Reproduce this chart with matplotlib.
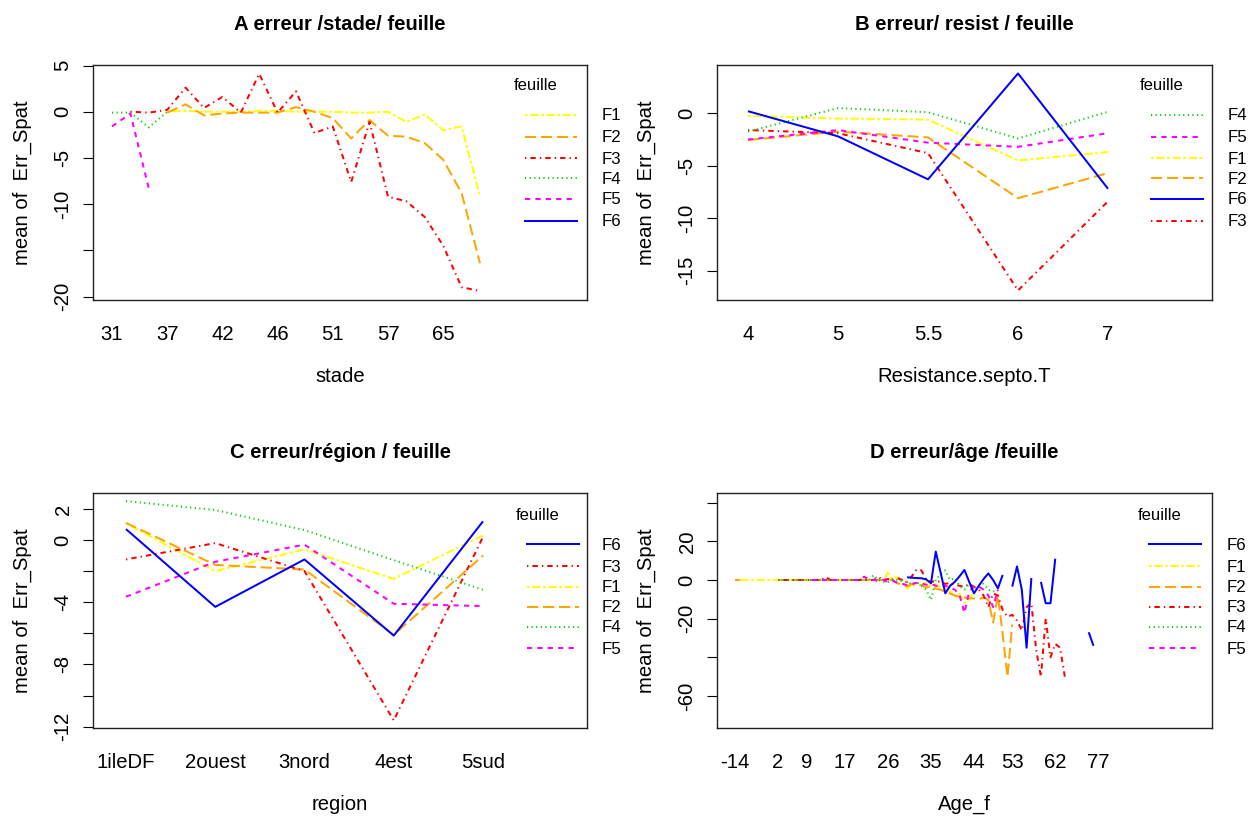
import numpy as np
import matplotlib
matplotlib.use('Agg')
import matplotlib.pyplot as plt
from matplotlib.lines import Line2D

plt.rcParams['font.family'] = ['Liberation Sans', 'DejaVu Sans']
plt.rcParams['lines.scale_dashes'] = False

nan = np.nan
W, H = 1258, 816

# ---------------- data ----------------
leaves = ['F1', 'F2', 'F3', 'F4', 'F5', 'F6']
leaf_colors = {'F1': '#FFFF00', 'F2': '#FFA500', 'F3': '#FF0000',
               'F4': '#00CD00', 'F5': '#FF00FF', 'F6': '#0000FF'}

# Panel A : stade
stade_levels = [31, 32, 34, 37, 39, 41, 42, 43, 45, 46, 47, 49, 51, 53, 55, 57, 59, 61, 65, 69, 71]
stade_shown = [31, 37, 42, 46, 51, 57, 65]
A_F1 = [nan, nan, nan, 0.0, 0.1, 0.0, 0.0, 0.0, 0.1, 0.1, 0.0, 0.0, 0.0, -0.1, -0.1, 0.0, -1.1, -0.3, -2.0, -1.6, -9.2]
A_F2 = [nan, nan, nan, -0.1, 0.8, -0.4, -0.2, -0.1, -0.1, -0.1, 0.5, 0.0, -0.7, -2.9, -0.9, -2.6, -2.7, -3.4, -5.2, -8.8, -16.4]
A_F3 = [nan, 0.0, -0.1, 0.2, 2.6, 0.4, 1.6, -0.1, 4.1, -0.1, 2.2, -2.3, -1.6, -7.6, -1.1, -9.2, -9.7, -11.4, -14.5, -19.0, -19.4]
A_F4 = [-0.1, -0.1, -1.7, 0.0, nan, nan, nan, nan, nan, nan, nan, nan, nan, nan, nan, nan, nan, nan, nan, nan, nan]
A_F5 = [-1.6, -0.2, -8.3, nan, nan, nan, nan, nan, nan, nan, nan, nan, nan, nan, nan, nan, nan, nan, nan, nan, nan]
A_F6 = [nan] * 21

# Panel B : Resistance.septo.T
resist_levels = ['4', '5', '5.5', '6', '7']
B_F1 = [-0.25, -0.5, -0.6, -4.5, -3.7]
B_F2 = [-2.55, -1.75, -2.3, -8.1, -5.7]
B_F3 = [-1.6, -1.9, -3.8, -16.9, -8.4]
B_F4 = [-1.75, 0.5, 0.1, -2.4, 0.15]
B_F5 = [-2.5, -1.6, -2.8, -3.2, -1.9]
B_F6 = [0.2, -2.2, -6.3, 3.8, -7.2]

# Panel C : region
region_levels = ['1ileDF', '2ouest', '3nord', '4est', '5sud']
C_F1 = [1.07, -2.0, -0.6, -2.5, 0.3]
C_F2 = [1.1, -1.6, -1.9, -6.1, -1.0]
C_F3 = [-1.25, -0.2, -2.0, -11.6, 0.2]
C_F4 = [2.5, 1.93, 0.64, -1.3, -3.2]
C_F5 = [-3.65, -1.4, -0.3, -4.1, -4.25]
C_F6 = [0.7, -4.3, -1.25, -6.15, 1.2]

# Panel D : Age_f
age_levels = [-14, -9, -6, -4, -3, -2, -1, 0, 1, 2,
              3, 4, 5, 7, 8, 9,
              10, 11, 12, 13, 14, 15, 16, 17,
              18, 19, 20, 21, 22, 23, 24, 25, 26,
              27, 28, 29, 30, 31, 32, 33, 34, 35,
              36, 37, 38, 39, 40, 41, 42, 43, 44,
              45, 46, 47, 48, 49, 50, 51, 53,
              54, 55, 56, 57, 58, 59, 60, 61, 62,
              63, 64, 65, 66, 67, 68, 70, 73, 77]
age_shown = [-14, 2, 9, 17, 26, 35, 44, 53, 62, 77]
D_F1 = ([0.0] * 32 +
        [3.8, 0.5, 1.4, -1.0, -4.3, -2.6, -1.5, -2.6, -1.0, -3.0, -2.0, -4.0, -3.0, -6.0, -8.6, -7.0, -12.0, -10.0, -6.0] +
        [nan] * 26)
D_F2 = ([0.0, 0.0] + [nan] * 7 + [0.0] * 25 +
        [-1.7, -2.5, -3.4, -2.0, -3.0, -2.6, -4.0, -3.0, -4.5, -5.0, -6.0, -7.0, -8.0, -8.6, -9.0, -9.5, -9.5, -10.0, -9.0, -10.3,
         -22.0, -8.0, -28.0, -50.0, -23.0] +
        [nan] * 18)
D_F3 = ([nan] * 9 + [0.0] * 10 + [1.5] + [0.0] * 10 +
        [1.5, 0.0, 0.5, -0.5, 1.0, 0.0, -1.0, 2.0, 5.5, 5.0, 0.0, -1.0, -0.5, -1.0, -2.0, -1.5, -2.5, -3.0, -3.5, -2.0, -3.5,
         -5.0, -8.0, -14.0, -7.0, -8.0, -15.5, -19.0, -18.0, -21.0, -26.0, -14.0, -12.0, -36.0, -50.0, -20.0, -40.0, -33.0,
         -35.0, -50.0] +
        [nan] * 7)
D_F4 = ([nan] * 9 + [0.0] * 18 +
        [1.0, 0.0, 2.5, 0.0, -1.0, -1.0, 0.5, 0.0, -0.5, -1.0, -2.0, -1.0, -3.0, -5.0, -10.3, 0.0, 3.0, 5.0, 0.0, 1.0, -3.0,
         -5.0, -2.0, -4.0, -3.0, -2.0, -5.0, -6.0, -5.0] +
        [nan] * 21)
D_F5 = ([nan] * 16 + [0.0] * 11 +
        [1.7, 0.5, 0.0, -0.5, 0.0, -1.0, -0.5, -1.5, -2.0, -2.6, -2.0, -1.5, -1.7, -2.5, -2.0, -3.0, -3.4, -3.0, -4.0, -5.0,
         -8.0, -17.0, -6.0, -3.4, -3.4, -5.0, -8.0, -14.0, -5.0] +
        [nan] * 21)
D_F6 = ([nan] * 36 +
        [1.4, 1.2, 1.0, 0.9, 0.3, -1.7, 14.7, 4.0, -6.9, -3.0, -0.9, 2.0, 5.2, -1.0, -6.9, -3.0, 0.5, 3.4, 0.0, -4.3, 2.6,
         nan, -3.4, 7.0, -5.0, -35.0, 1.0, nan, -1.0, -12.0, -12.0, 11.0] +
        [nan] * 6 + [-27.0, -34.0, nan])

# ---------------- styles ----------------
def dash(pattern, unit_px):
    return (0, tuple(p * unit_px * 0.72 for p in pattern))

leaf_styles = {'F1': dash((2, 2, 6, 2), 1.35),
               'F2': dash((7, 3), 1.6),
               'F3': dash((1, 3, 4, 3), 1.35),
               'F4': dash((1, 3), 1.15),
               'F5': dash((4, 4), 1.3),
               'F6': '-'}
LW = 2 * 0.72

fig = plt.figure(figsize=(W / 100, H / 100), dpi=100)


def fx(x):
    return x / W


def fy(y):
    return 1 - y / H


def make_panel(box, title, xlabel, levels, shown, series, xlim, ylim,
               yticks, ylabels, legend_order, legend_rows, legend_x):
    l, t, r, b = box
    ax = fig.add_axes([fx(l), fy(b), (r - l) / W, (b - t) / H])
    xs = np.arange(len(levels))
    for lf in leaves:
        ys = np.array(series[lf], dtype=float)
        ax.plot(xs, ys, color=leaf_colors[lf], linestyle=leaf_styles[lf],
                lw=LW, dash_capstyle='butt', solid_capstyle='butt')
    ax.set_xlim(*xlim)
    ax.set_ylim(*ylim)
    ax.set_xticks(xs)
    ax.set_xticklabels([str(v) if v in shown else '' for v in levels])
    ax.set_yticks(yticks)
    ax.set_yticklabels(ylabels)
    ax.tick_params(axis='x', length=0, pad=18, labelsize=14.6)
    ax.tick_params(axis='y', length=7.2, width=0.8, pad=7.5, labelsize=14.6)
    for lab in ax.get_yticklabels():
        lab.set_rotation(90)
        lab.set_va('center')
        lab.set_ha('right')
    for s in ax.spines.values():
        s.set_linewidth(1.0)
        s.set_color('#222222')
    cx = (l + r) / 2
    fig.text(fx(cx), fy(t - 35), title, ha='center', va='baseline',
             fontsize=14.6, fontweight='bold')
    fig.text(fx(cx), fy(b + 82), xlabel, ha='center', va='baseline', fontsize=14.6)
    fig.text(fx(l - 71), fy((t + b) / 2), 'mean of  Err_Spat', ha='center', va='center',
             rotation=90, fontsize=14.6)
    # legend
    x0, x1, xt, xlab = legend_x
    fig.text(fx(xt), fy(legend_rows[0] - 29), 'feuille', ha='left', va='center', fontsize=12)
    for lf, yy in zip(legend_order, legend_rows):
        fig.add_artist(Line2D([fx(x0), fx(x1)], [fy(yy), fy(yy)], color=leaf_colors[lf],
                              linestyle=leaf_styles[lf], lw=LW, dash_capstyle='butt'))
        fig.text(fx(xlab), fy(yy + 1), lf, ha='left', va='center', fontsize=12.2)
    return ax


rows_top = [115, 137, 158, 178, 199, 221]
rows_bot = [544, 566, 587, 607, 627, 648]

make_panel((93, 65, 587, 300), 'A erreur /stade/ feuille', 'stade',
           stade_levels, stade_shown,
           {'F1': A_F1, 'F2': A_F2, 'F3': A_F3, 'F4': A_F4, 'F5': A_F5, 'F6': A_F6},
           ((93 - 112) / 18.4, (587 - 112) / 18.4),
           ((111.7 - 300) / 9.24, (111.7 - 65) / 9.24),
           [5, 0, -5, -10, -15, -20], ['5', '0', '-5', '-10', '', '-20'],
           ['F1', 'F2', 'F3', 'F4', 'F5', 'F6'], rows_top, (525, 577, 514, 602))

make_panel((717, 65, 1212, 300), 'B erreur/ resist / feuille', 'Resistance.septo.T',
           resist_levels, resist_levels,
           {'F1': B_F1, 'F2': B_F2, 'F3': B_F3, 'F4': B_F4, 'F5': B_F5, 'F6': B_F6},
           ((717 - 748) / 90.0, (1212 - 748) / 90.0),
           ((113.3 - 300) / 10.48, (113.3 - 65) / 10.48),
           [0, -5, -10, -15], ['0', '-5', '-10', '-15'],
           ['F4', 'F5', 'F1', 'F2', 'F6', 'F3'], rows_top, (1151, 1203, 1140, 1228))

make_panel((93, 493, 587, 728), 'C erreur/région / feuille', 'region',
           region_levels, region_levels,
           {'F1': C_F1, 'F2': C_F2, 'F3': C_F3, 'F4': C_F4, 'F5': C_F5, 'F6': C_F6},
           ((93 - 126) / 89.25, (587 - 126) / 89.25),
           ((540 - 728) / 15.55, (540 - 493) / 15.55),
           [2, 0, -2, -4, -6, -8, -10, -12], ['2', '0', '', '-4', '', '-8', '', '-12'],
           ['F6', 'F3', 'F1', 'F2', 'F4', 'F5'], rows_bot, (527, 579, 516, 602))

make_panel((717, 493, 1212, 728), 'D erreur/âge /feuille', 'Age_f',
           age_levels, age_shown,
           {'F1': D_F1, 'F2': D_F2, 'F3': D_F3, 'F4': D_F4, 'F5': D_F5, 'F6': D_F6},
           ((717 - 735) / 4.78, (1212 - 735) / 4.78),
           ((580 - 728) / 1.935, (580 - 493) / 1.935),
           [40, 20, 0, -20, -40, -60], ['', '20', '0', '-20', '', '-60'],
           ['F6', 'F1', 'F2', 'F3', 'F4', 'F5'], rows_bot, (1149, 1201, 1138, 1227))

fig.savefig('out.png', dpi=100, facecolor='white')
